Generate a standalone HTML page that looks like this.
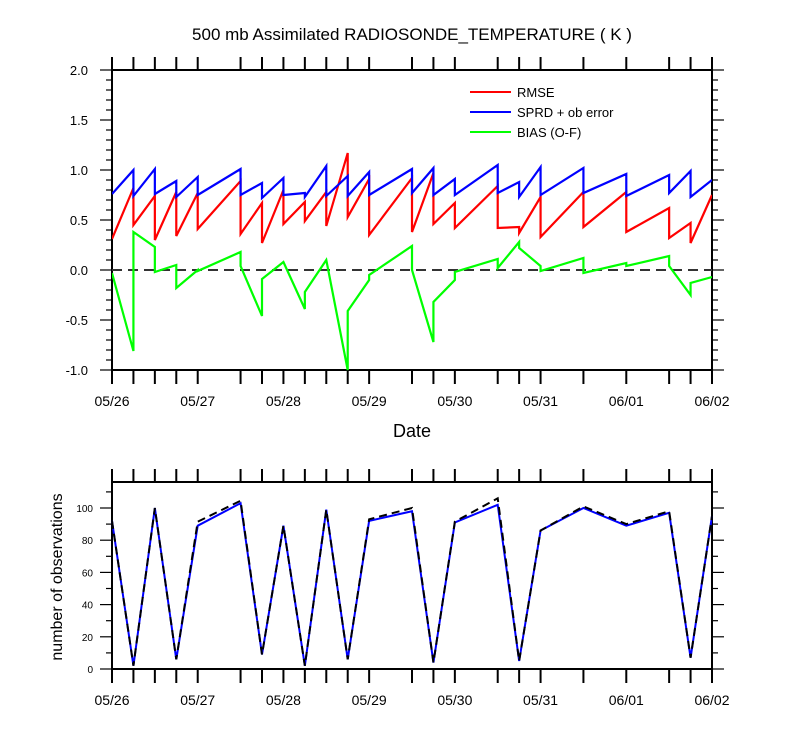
<!DOCTYPE html>
<html><head><meta charset="utf-8"><style>
body{margin:0;background:#fff;}
svg text{font-family:"Liberation Sans",sans-serif;}
</style></head><body>
<svg id="c" width="800" height="750" xmlns="http://www.w3.org/2000/svg"></svg>
<script>
const times=[0,1,2,3,4,6,7,8,9,10,11,12,14,15,16,18,19,20,22,24,26,27,28];
const dateLabels=["05/26","05/27","05/28","05/29","05/30","05/31","06/01","06/02"];
const yTicksTop=["2.0","1.5","1.0","0.5","0.0","-0.5","-1.0"];
const yTicksBot=[0,20,40,60,80,100];
// segment start/end values (segment i spans times[i] -> times[i+1])
const rmseStart=[0.31,0.45,0.30,0.34,0.41,0.36,0.27,0.46,0.49,0.44,0.53,0.35,0.38,0.46,0.42,0.42,0.37,0.33,0.43,0.38,0.32,0.27];
const rmseEnd=[0.82,0.74,0.78,0.77,0.89,0.67,0.80,0.68,0.78,1.17,0.91,0.92,0.97,0.67,0.84,0.43,0.73,0.78,0.78,0.62,0.47,0.75];
const sprdStart=[0.76,0.74,0.76,0.73,0.75,0.75,0.72,0.75,0.73,0.74,0.74,0.75,0.77,0.75,0.75,0.77,0.73,0.75,0.77,0.74,0.77,0.73];
const sprdEnd=[1.0,1.01,0.89,0.93,1.01,0.87,0.92,0.77,1.04,0.94,0.98,1.01,1.02,0.91,1.05,0.88,1.03,1.02,0.96,0.95,0.99,0.9];
const biasStart=[-0.03,0.38,-0.02,-0.18,-0.01,0.04,-0.09,0.08,-0.22,0.10,-0.41,-0.05,0.0,-0.32,-0.02,0.02,0.22,-0.01,-0.03,0.04,0.04,-0.13];
const biasEnd=[-0.81,0.23,0.05,0.0,0.18,-0.46,0.08,-0.39,0.10,-1.0,-0.10,0.24,-0.72,-0.10,0.11,0.28,0.04,0.12,0.07,0.14,-0.25,-0.07];
const obsAssim=[92,2,100,6,89,103,9,89,2,99,6,92,98,4,91,102,5,86,100,89,97,7,95];
const obsTotal=[92,2,100,6,91.5,104.5,9,89,2,99,6,93,100,4,91.5,106,5,86,101,90,98,7,95];

const NS="http://www.w3.org/2000/svg";
const svg=document.getElementById('c');
function mk(tag,attrs,parent){const e=document.createElementNS(NS,tag);for(const k in attrs)e.setAttribute(k,attrs[k]);(parent||svg).appendChild(e);return e;}
const X0=112,X1=712;
const xs=t=>X0+(X1-X0)*t/28;
const yTop=v=>270-100*v;
const yBot=v=>669-1.61*v;

let t=mk('text',{x:412,y:40,'font-size':17,'text-anchor':'middle'});t.textContent="500 mb Assimilated RADIOSONDE_TEMPERATURE ( K )";


function frame(y0,y1,name){
  const g=mk('g',{});
  
  mk('rect',{x:X0,y:y0,width:X1-X0,height:y1-y0,fill:'none',stroke:'#000','stroke-width':2},g);
  times.forEach(tt=>{const x=xs(tt);
    mk('line',{x1:x,x2:x,y1:y0,y2:y0-13,stroke:'#000','stroke-width':2},g);
    mk('line',{x1:x,x2:x,y1:y1,y2:y1+14,stroke:'#000','stroke-width':2},g);});
  dateLabels.forEach((d,i)=>{const l=mk('text',{x:xs(i*4),y:y1+36,'font-size':14,'text-anchor':'middle'},g);l.textContent=d;
    });
  return g;
}
const gt=frame(70,370,'top-panel');
for(let i=0;i<=30;i++){const y=70+i*10;const L=(i%5==0)?12:6;
  mk('line',{x1:X0,x2:X0-L,y1:y,y2:y,stroke:'#000','stroke-width':1.2},gt);
  mk('line',{x1:X1,x2:X1+L,y1:y,y2:y,stroke:'#000','stroke-width':1.2},gt);}
yTicksTop.forEach(s=>{const l=mk('text',{x:88,y:yTop(parseFloat(s))+5,'font-size':13,'text-anchor':'end'},gt);l.textContent=s;
  });
let zl=mk('line',{x1:X0,x2:X1,y1:yTop(0),y2:yTop(0),stroke:'#333','stroke-width':2,'stroke-dasharray':'10,6'});

function segSeries(st,en,color,name){
  let d='';
  for(let i=0;i<st.length;i++){const a=xs(times[i]),b=xs(times[i+1]);
    d+=(i==0?'M':'L')+a+','+yTop(st[i])+'L'+b+','+yTop(en[i]);}
  const p=mk('path',{d:d,fill:'none',stroke:color,'stroke-width':2.2,'clip-path':'url(#cp)'});
  
}
mk('clipPath',{id:'cp'});mk('rect',{x:X0,y:69,width:600,height:302},svg.lastChild);
segSeries(rmseStart,rmseEnd,'#ff0000','rmse-line');
segSeries(sprdStart,sprdEnd,'#0000ff','sprd-line');
segSeries(biasStart,biasEnd,'#00ff00','bias-line');
const leg=[["RMSE","#ff0000"],["SPRD + ob error","#0000ff"],["BIAS (O-F)","#00ff00"]];
leg.forEach((e,i)=>{const g=mk('g',{});
  const y=92+i*20;mk('line',{x1:470,x2:511,y1:y,y2:y,stroke:e[1],'stroke-width':2},g);
  const l=mk('text',{x:517,y:y+5,'font-size':13},g);l.textContent=e[0];});
t=mk('text',{x:412,y:437,'font-size':18,'text-anchor':'middle'});t.textContent="Date";


const gb=frame(482,669,'bottom-panel');
for(let v=0;v<=110;v+=10){const y=yBot(v);const L=(v%20==0)?12:6;
  mk('line',{x1:X0,x2:X0-L,y1:y,y2:y,stroke:'#000','stroke-width':1.2},gb);
  mk('line',{x1:X1,x2:X1+L,y1:y,y2:y,stroke:'#000','stroke-width':1.2},gb);}
yTicksBot.forEach(v=>{const l=mk('text',{x:93,y:yBot(v)+4,'font-size':10,'text-anchor':'end'},gb);l.textContent=v;
  });
t=mk('text',{x:62,y:577,'font-size':16,'text-anchor':'middle',transform:'rotate(-90 62 577)'});t.textContent="number of observations";

function line(vals,color,dash,name){
  const pts=vals.map((v,i)=>xs(times[i])+','+yBot(v)).join(' ');
  const p=mk('polyline',{points:pts,fill:'none',stroke:color,'stroke-width':2});
  if(dash)p.setAttribute('stroke-dasharray',dash);
  
}
line(obsAssim,'#0000ff',null,'obs-assimilated-line');
line(obsTotal,'#000','8,5','obs-total-line');
</script>
</body></html>
